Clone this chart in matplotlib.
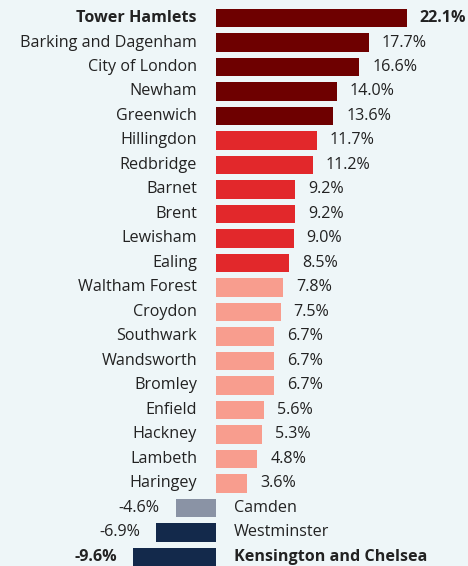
import matplotlib
matplotlib.use("Agg")
import matplotlib.pyplot as plt

# borough change figures, top to bottom
boroughs = ["Tower Hamlets", "Barking and Dagenham", "City of London", "Newham",
            "Greenwich", "Hillingdon", "Redbridge", "Barnet", "Brent", "Lewisham",
            "Ealing", "Waltham Forest", "Croydon", "Southwark", "Wandsworth",
            "Bromley", "Enfield", "Hackney", "Lambeth", "Haringey", "Camden",
            "Westminster", "Kensington and Chelsea"]
values = [22.1, 17.7, 16.6, 14.0, 13.6, 11.7, 11.2, 9.2, 9.2, 9.0, 8.5, 7.8,
          7.5, 6.7, 6.7, 6.7, 5.6, 5.3, 4.8, 3.6, -4.6, -6.9, -9.6]
bold_rows = ["Tower Hamlets", "Kensington and Chelsea"]

bg = "#eef6f8"

def bar_colour(name, v):
    if v >= 13:
        return "#6e0000"
    if v >= 8:
        return "#e2282b"
    if v > 0:
        return "#f89d8e"
    if name == "Camden":
        return "#8a93a5"
    return "#13294b"

plt.rcParams["font.family"] = ["Open Sans", "DejaVu Sans"]

fig = plt.figure(figsize=(4.68, 5.66), dpi=100, facecolor=bg)
ax = fig.add_axes([0, 0, 1, 1], facecolor=bg)

ypos = list(range(len(boroughs)))
colours = [bar_colour(n, v) for n, v in zip(boroughs, values)]
ax.barh(ypos, values, height=0.74, color=colours)

fs = 11.6
for y, name, v in zip(ypos, boroughs, values):
    weight = "bold" if name in bold_rows else "normal"
    if v >= 0:
        ax.text(-2.2, y, name, ha="right", va="center", fontsize=fs,
                color="#222222", fontweight=weight)
        ax.text(v + 1.5, y, f"{v:.1f}%", ha="left", va="center", fontsize=fs,
                color="#222222", fontweight=weight)
    else:
        ax.text(2.1, y, name, ha="left", va="center", fontsize=fs,
                color="#222222", fontweight=weight)
        ax.text(v - 1.9, y, f"{v:.1f}%", ha="right", va="center", fontsize=fs,
                color="#222222", fontweight=weight)

ax.set_xlim(-25.0, 29.17)
ax.set_ylim(22.37, -0.735)
ax.axis("off")

fig.savefig("out.png", dpi=100, facecolor=bg)
